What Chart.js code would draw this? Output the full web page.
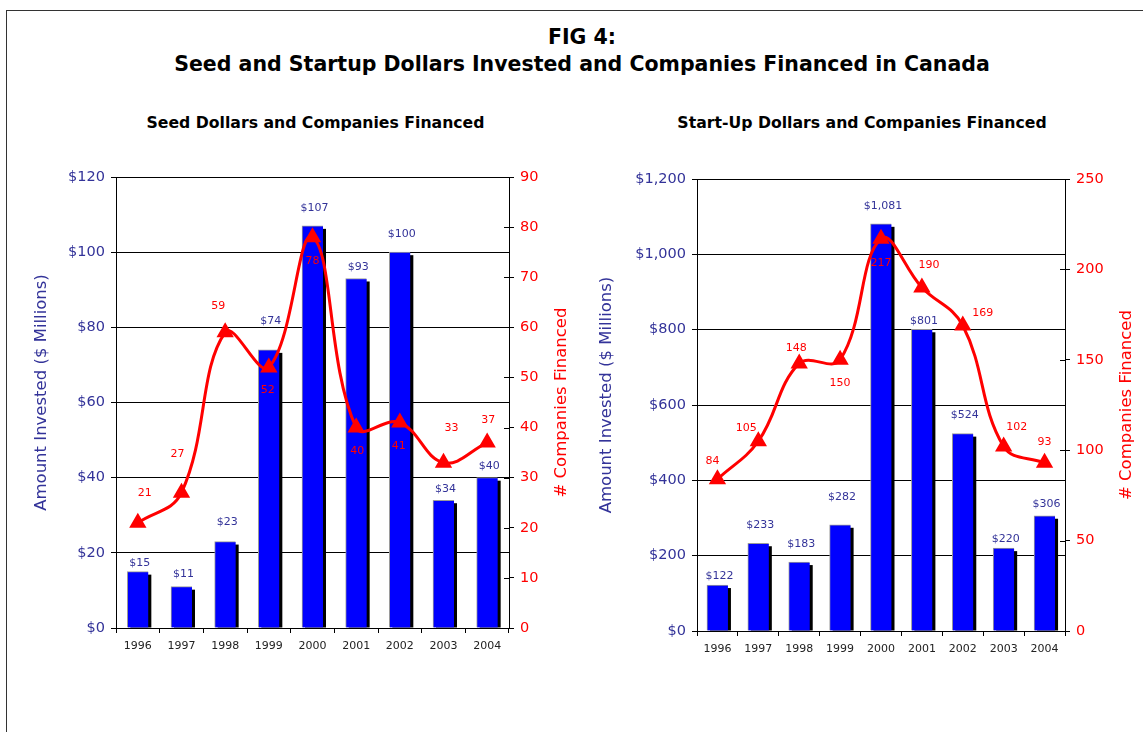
<!DOCTYPE html>
<html>
<head>
<meta charset="utf-8">
<script src="https://cdn.jsdelivr.net/npm/chart.js@4/dist/chart.umd.min.js"></script>
<style>
  body { margin:0; background:#fff; width:1143px; height:732px; overflow:hidden; position:relative; font-family:"DejaVu Sans", sans-serif; }
  #frame { position:absolute; left:6px; top:10px; width:1200px; height:800px; border:1px solid #333; }
  .ttl { position:absolute; text-align:center; font-weight:bold; color:#000; white-space:nowrap; }
  .main { left:0; width:1164px; font-size:20.5px; line-height:24px; }
  .sub { font-size:15.7px; line-height:20px; top:113px; }
  #box1 { position:absolute; left:20px; top:100px; width:575px; height:570px; }
  #box2 { position:absolute; left:585px; top:100px; width:558px; height:570px; }
</style>
</head>
<body>
<div id="frame"></div>
<div class="ttl main" style="top:25px">FIG 4:</div>
<div class="ttl main" style="top:52px">Seed and Startup Dollars Invested and Companies Financed in Canada</div>
<div class="ttl sub" style="left:0;width:631px">Seed Dollars and Companies Financed</div>
<div class="ttl sub" style="left:580px;width:564px">Start-Up Dollars and Companies Financed</div>
<div id="box1"><canvas id="seedChart"></canvas></div>
<div id="box2"><canvas id="startChart"></canvas></div>

<script>
// DATA
const years = ['1996', '1997', '1998', '1999', '2000', '2001', '2002', '2003', '2004'];

const seedDollars = [15, 11, 23, 74, 107, 93, 100, 34, 40];        // $ millions
const seedCompanies = [21, 27, 59, 52, 78, 40, 41, 33, 37];

const startDollars = [122, 233, 183, 282, 1081, 801, 524, 220, 306]; // $ millions
const startCompanies = [84, 105, 148, 150, 217, 190, 169, 102, 93];

// axis ranges (min, max, step)
const seedDollarAxis = [0, 120, 20];
const seedCompanyAxis = [0, 90, 10];
const startDollarAxis = [0, 1200, 200];
const startCompanyAxis = [0, 250, 50];

Chart.defaults.font.family = '"DejaVu Sans", sans-serif';
Chart.defaults.animation = false;

const dollarTick = v => '$' + Number(v).toLocaleString('en-US');

//black drop shadow behind each bar
const barShadow = {
  id: 'barShadow',
  beforeDatasetsDraw(chart) {
    const ctx = chart.ctx;
    ctx.save();
    ctx.fillStyle = '#000';
    chart.getDatasetMeta(1).data.forEach(b => {
      ctx.fillRect(b.x - b.width / 2 + 3, b.y + 3, b.width, b.base - b.y - 3);
    });
    ctx.restore();
  }
};

//value labels on bars and points
const valueLabels = {
  id: 'valueLabels',
  afterDatasetsDraw(chart, args, o) {
    const ctx = chart.ctx;
    ctx.save();
    ctx.textAlign = 'center';
    ctx.textBaseline = 'middle';
    ctx.font = '11px "DejaVu Sans"';
    ctx.fillStyle = '#333399';
    const bd = chart.data.datasets[1].data;
    chart.getDatasetMeta(1).data.forEach((b, i) => {
      ctx.fillText(dollarTick(bd[i]), b.x + 2, b.y + o.barDy[i]);
    });
    ctx.fillStyle = '#FF0000';
    const ld = chart.data.datasets[0].data;
    chart.getDatasetMeta(0).data.forEach((p, i) => {
      ctx.fillText(ld[i], p.x + o.lineOff[i][0], p.y + o.lineOff[i][1]);
    });
    ctx.restore();
  }
};

//right axis ticks cross the axis line + both axis titles read bottom-to-top
const axisExtras = {
  id: 'axisExtras',
  afterDraw(chart, args, o) {
    const ctx = chart.ctx, s = chart.scales.y1, a = chart.chartArea;
    ctx.save();
    ctx.strokeStyle = '#000';
    ctx.lineWidth = 1;
    s.ticks.forEach(t => {
      const y = Math.round(s.getPixelForValue(t.value)) + 0.5;
      ctx.beginPath();
      ctx.moveTo(s.left - 5, y);
      ctx.lineTo(s.left, y);
      ctx.stroke();
    });

    const cy = (a.top + a.bottom) / 2;
    ctx.textAlign = 'center';
    ctx.textBaseline = 'middle';
    ctx.font = '16.5px "DejaVu Sans"';

    ctx.save();
    ctx.translate(chart.scales.y.left + 14, cy - 10);
    ctx.rotate(-Math.PI / 2);
    ctx.fillStyle = '#333399';
    ctx.fillText('Amount Invested ($ Millions)', 0, 0);
    ctx.restore();

    ctx.save();
    ctx.translate(s.right - 14, cy);
    ctx.rotate(-Math.PI / 2);
    ctx.fillStyle = '#FF0000';
    ctx.fillText('# Companies Financed', 0, 0);
    ctx.restore();

    ctx.restore();
  }
};

function buildChart(id, dollars, companies, dAxis, cAxis, opt) {
  return new Chart(document.getElementById(id), {
    data: {
      labels: years,
      datasets: [
        {
          type: 'line', data: companies, yAxisID: 'y1', order: 0,
          borderColor: '#FF0000', backgroundColor: '#FF0000', borderWidth: 3,
          tension: 0.4, pointStyle: 'triangle', pointRadius: 7, pointHoverRadius: 7
        },
        {
          type: 'bar', data: dollars, yAxisID: 'y', order: 1,
          backgroundColor: '#0000FF', borderColor: '#9a9a9a',
          borderWidth: { top: 1, left: 1, right: 0, bottom: 0 }, barThickness: 21
        }
      ]
    },
    options: {
      responsive: true,
      maintainAspectRatio: false,
      layout: { padding: opt.padding },
      plugins: {
        legend: { display: false },
        tooltip: { enabled: false },
        valueLabels: { barDy: opt.barDy, lineOff: opt.lineOff }
      },
      scales: {
        x: {
          type: 'category', offset: true,
          grid: { offset: true, drawOnChartArea: false, color: '#000', tickLength: 5 },
          border: { color: '#000' },
          ticks: { color: '#222', font: { size: 11 }, padding: 7 },
          afterFit: s => { s.height = 30; }
        },
        y: {
          type: 'linear', position: 'left',
          min: dAxis[0], max: dAxis[1],
          ticks: { stepSize: dAxis[2], callback: dollarTick, color: '#333399', font: { size: 14.5 }, padding: 6 },
          grid: { color: '#000', tickLength: 5 },
          border: { color: '#000' },
          afterFit: s => { s.width = opt.leftW; }
        },
        y1: {
          type: 'linear', position: 'right',
          min: cAxis[0], max: cAxis[1],
          ticks: { stepSize: cAxis[2], color: '#FF0000', font: { size: 14.5 }, padding: 6 },
          grid: { drawOnChartArea: false, color: '#000', tickLength: 5 },
          border: { color: '#000' },
          afterFit: s => { s.width = opt.rightW; }
        }
      }
    },
    plugins: [barShadow, valueLabels, axisExtras]
  });
}

buildChart('seedChart', seedDollars, seedCompanies, seedDollarAxis, seedCompanyAxis, {
  padding: { left: 8, right: 19, top: 77, bottom: 12 },
  leftW: 88, rightW: 67,
  barDy: [-8, -13, -19, -29, -18, -11, -18, -11, -12],
  lineOff: [[7, -30], [-4, -39], [-7, -26], [-1, 23], [0, 24], [1, 24], [-1, 24], [8, -34], [1, -22]]
});

buildChart('startChart', startDollars, startCompanies, startDollarAxis, startCompanyAxis, {
  padding: { left: 8, right: 2, top: 79, bottom: 9 },
  leftW: 104, rightW: 76,
  barDy: [-9, -18, -18, -28, -18, -8, -18, -9, -12],
  lineOff: [[-5, -18], [-12, -13], [-3, -15], [0, 23], [0, 24], [7, -22], [20, -12], [13, -19], [0, -21]]
});
</script>
</body>
</html>
